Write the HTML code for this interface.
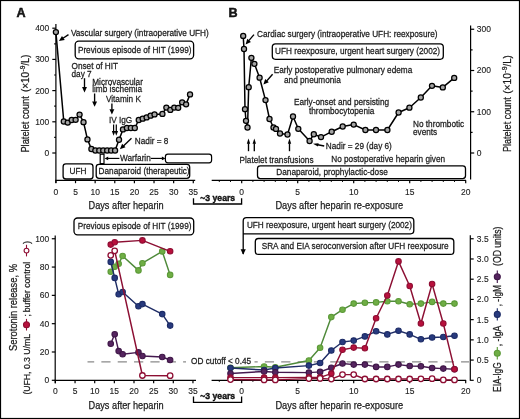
<!DOCTYPE html>
<html><head><meta charset="utf-8"><style>
html,body{margin:0;padding:0;background:#fff;}
body{width:520px;height:419px;overflow:hidden;}
svg{display:block;font-family:"Liberation Sans",sans-serif;will-change:transform;}
text{fill:#1a1a1a;stroke:#1a1a1a;stroke-width:0.25px;}
text.tk{stroke-width:0.12px;fill:#222;stroke:#222;}
</style></head><body>
<svg width="520" height="419" viewBox="0 0 520 419">
<rect x="0" y="0" width="520" height="419" fill="#fff"/>
<text transform="translate(16.6,16.8) scale(1,1)" font-size="12.6" text-anchor="start" font-weight="bold" fill="#000" style="stroke:#000;stroke-width:0.45px">A</text>
<line x1="55.9" y1="24" x2="55.9" y2="183" stroke="#000" stroke-width="1.2" />
<line x1="52.3" y1="153.0" x2="55.9" y2="153.0" stroke="#000" stroke-width="1.2" />
<text transform="translate(49.3,155.9) scale(0.91,1)" font-size="9.35" text-anchor="end" font-weight="normal" class="tk">0</text>
<line x1="54.2" y1="137.4" x2="55.9" y2="137.4" stroke="#000" stroke-width="1.2" />
<line x1="52.3" y1="121.8" x2="55.9" y2="121.8" stroke="#000" stroke-width="1.2" />
<text transform="translate(49.3,124.7) scale(0.91,1)" font-size="9.35" text-anchor="end" font-weight="normal" class="tk">100</text>
<line x1="54.2" y1="106.2" x2="55.9" y2="106.2" stroke="#000" stroke-width="1.2" />
<line x1="52.3" y1="90.6" x2="55.9" y2="90.6" stroke="#000" stroke-width="1.2" />
<text transform="translate(49.3,93.5) scale(0.91,1)" font-size="9.35" text-anchor="end" font-weight="normal" class="tk">200</text>
<line x1="54.2" y1="75.0" x2="55.9" y2="75.0" stroke="#000" stroke-width="1.2" />
<line x1="52.3" y1="59.400000000000006" x2="55.9" y2="59.400000000000006" stroke="#000" stroke-width="1.2" />
<text transform="translate(49.3,62.300000000000004) scale(0.91,1)" font-size="9.35" text-anchor="end" font-weight="normal" class="tk">300</text>
<line x1="54.2" y1="43.8" x2="55.9" y2="43.8" stroke="#000" stroke-width="1.2" />
<line x1="52.3" y1="28.200000000000003" x2="55.9" y2="28.200000000000003" stroke="#000" stroke-width="1.2" />
<text transform="translate(49.3,31.1) scale(0.91,1)" font-size="9.35" text-anchor="end" font-weight="normal" class="tk">400</text>
<line x1="55.3" y1="180.4" x2="195.2" y2="180.4" stroke="#000" stroke-width="1.2" />
<line x1="55.9" y1="180.4" x2="55.9" y2="183.2" stroke="#000" stroke-width="1.2" />
<text transform="translate(55.9,194.5) scale(0.91,1)" font-size="9.35" text-anchor="middle" font-weight="normal" class="tk">0</text>
<line x1="75.525" y1="180.4" x2="75.525" y2="183.2" stroke="#000" stroke-width="1.2" />
<text transform="translate(75.525,194.5) scale(0.91,1)" font-size="9.35" text-anchor="middle" font-weight="normal" class="tk">5</text>
<line x1="95.15" y1="180.4" x2="95.15" y2="183.2" stroke="#000" stroke-width="1.2" />
<text transform="translate(95.15,194.5) scale(0.91,1)" font-size="9.35" text-anchor="middle" font-weight="normal" class="tk">10</text>
<line x1="114.775" y1="180.4" x2="114.775" y2="183.2" stroke="#000" stroke-width="1.2" />
<text transform="translate(114.775,194.5) scale(0.91,1)" font-size="9.35" text-anchor="middle" font-weight="normal" class="tk">15</text>
<line x1="134.4" y1="180.4" x2="134.4" y2="183.2" stroke="#000" stroke-width="1.2" />
<text transform="translate(134.4,194.5) scale(0.91,1)" font-size="9.35" text-anchor="middle" font-weight="normal" class="tk">20</text>
<line x1="154.025" y1="180.4" x2="154.025" y2="183.2" stroke="#000" stroke-width="1.2" />
<text transform="translate(154.025,194.5) scale(0.91,1)" font-size="9.35" text-anchor="middle" font-weight="normal" class="tk">25</text>
<line x1="173.65" y1="180.4" x2="173.65" y2="183.2" stroke="#000" stroke-width="1.2" />
<text transform="translate(173.65,194.5) scale(0.91,1)" font-size="9.35" text-anchor="middle" font-weight="normal" class="tk">30</text>
<line x1="193.275" y1="180.4" x2="193.275" y2="183.2" stroke="#000" stroke-width="1.2" />
<text transform="translate(193.275,194.5) scale(0.91,1)" font-size="9.35" text-anchor="middle" font-weight="normal" class="tk">35</text>
<g transform="translate(28.7,152.6) rotate(-90)">
<text x="0" y="0" font-size="11.4" textLength="56.4" lengthAdjust="spacingAndGlyphs">Platelet count</text>
<text x="60.5" y="0" font-size="10.0" textLength="20.195999999999998" lengthAdjust="spacingAndGlyphs">(×10</text>
<text x="81.07000000000001" y="-3.8" font-size="7.0" textLength="5.983999999999995" lengthAdjust="spacingAndGlyphs">-9</text>
<text x="87.054" y="0" font-size="10.0" textLength="10.846000000000004" lengthAdjust="spacingAndGlyphs">/L)</text>
</g>
<text x="88.5" y="208.9" font-size="11.2" textLength="75.2" lengthAdjust="spacingAndGlyphs" text-anchor="start" font-weight="normal" >Days after heparin</text>
<rect x="63.1" y="163.9" width="29.9" height="15.099999999999994" rx="2.8" ry="2.8" fill="#fff" stroke="#000" stroke-width="1.3"/>
<text transform="translate(78.0,174.2) scale(0.881,1)" font-size="9.35" text-anchor="middle" font-weight="normal" >UFH</text>
<rect x="96.2" y="164.4" width="93.49999999999999" height="13.900000000000006" rx="2.8" ry="2.8" fill="#fff" stroke="#000" stroke-width="1.3"/>
<text transform="translate(98.6,174.1) scale(0.881,1)" font-size="9.35" text-anchor="start" font-weight="normal" >Danaparoid (therapeutic)</text>
<rect x="100.2" y="154.2" width="3.8" height="9.4" fill="#fff" stroke="#000" stroke-width="1.2"/>
<rect x="165.4" y="154.2" width="46.19999999999999" height="8.600000000000023" rx="2.5" ry="2.5" fill="#fff" stroke="#000" stroke-width="1.2"/>
<line x1="119.4" y1="158.4" x2="107.70" y2="158.40" stroke="#000" stroke-width="1.15"/>
<path d="M104.60,158.40 L108.20,156.50 L108.20,160.30 Z" fill="#000"/>
<line x1="150.8" y1="158.4" x2="162.40" y2="158.40" stroke="#000" stroke-width="1.15"/>
<path d="M165.50,158.40 L161.90,160.30 L161.90,156.50 Z" fill="#000"/>
<text transform="translate(120.0,161.3) scale(0.881,1)" font-size="9.35" text-anchor="start" font-weight="normal" >Warfarin</text>
<rect x="75.2" y="41.2" width="118.39999999999999" height="17.599999999999994" rx="3.5" ry="3.5" fill="#fff" stroke="#000" stroke-width="1.3"/>
<text transform="translate(77.9,52.5) scale(0.881,1)" font-size="9.35" text-anchor="start" font-weight="normal" >Previous episode of HIT (1999)</text>
<text transform="translate(70.9,35.7) scale(0.881,1)" font-size="9.35" text-anchor="start" font-weight="normal" >Vascular surgery (intraoperative UFH)</text>
<line x1="68.5" y1="34.6" x2="62.98" y2="38.28" stroke="#000" stroke-width="1.35"/>
<path d="M58.90,41.00 L62.03,35.97 L64.75,40.04 Z" fill="#000"/>
<text transform="translate(71.5,68.8) scale(0.881,1)" font-size="9.35" text-anchor="start" font-weight="normal" >Onset of HIT</text>
<text transform="translate(71.5,76.7) scale(0.881,1)" font-size="9.35" text-anchor="start" font-weight="normal" >day 7</text>
<line x1="84.5" y1="78.2" x2="84.50" y2="87.50" stroke="#000" stroke-width="1.35"/>
<path d="M84.50,92.40 L82.05,87.00 L86.95,87.00 Z" fill="#000"/>
<text transform="translate(92.2,84.6) scale(0.881,1)" font-size="9.35" text-anchor="start" font-weight="normal" >Microvascular</text>
<text transform="translate(92.2,92.3) scale(0.881,1)" font-size="9.35" text-anchor="start" font-weight="normal" >limb ischemia</text>
<line x1="94.6" y1="93.5" x2="94.60" y2="101.90" stroke="#000" stroke-width="1.35"/>
<path d="M94.60,106.80 L92.15,101.40 L97.05,101.40 Z" fill="#000"/>
<text transform="translate(105.9,102.1) scale(0.881,1)" font-size="9.35" text-anchor="start" font-weight="normal" >Vitamin K</text>
<line x1="111.9" y1="103.4" x2="111.90" y2="109.70" stroke="#000" stroke-width="1.35"/>
<path d="M111.90,114.60 L109.45,109.20 L114.35,109.20 Z" fill="#000"/>
<text transform="translate(108.9,122.6) scale(0.881,1)" font-size="9.35" text-anchor="start" font-weight="normal" >IV IgG</text>
<line x1="113.6" y1="124.4" x2="113.60" y2="131.50" stroke="#000" stroke-width="1.2"/>
<path d="M113.60,135.80 L111.85,131.00 L115.35,131.00 Z" fill="#000"/>
<line x1="116.3" y1="124.4" x2="116.30" y2="131.50" stroke="#000" stroke-width="1.2"/>
<path d="M116.30,135.80 L114.55,131.00 L118.05,131.00 Z" fill="#000"/>
<text transform="translate(134.8,143.7) scale(0.881,1)" font-size="9.35" text-anchor="start" font-weight="normal" >Nadir = 8</text>
<line x1="131.5" y1="138.2" x2="123.44" y2="145.91" stroke="#000" stroke-width="1.35"/>
<path d="M119.90,149.30 L122.11,143.80 L125.50,147.34 Z" fill="#000"/>
<path d="M55.90,32.10 L63.79,121.50 L67.73,122.60 L71.68,120.00 L75.62,119.80 L79.57,114.60 L83.52,122.20 L87.46,139.40 L91.41,149.00 L95.35,150.50 L99.29,150.50 L103.24,150.50 L107.19,150.50 L111.13,150.50 L115.07,150.50 L119.02,139.70 L122.97,129.40 L126.91,128.00 L130.85,128.00 L134.80,128.00 L138.75,120.00 L142.69,118.70 L146.63,117.40 L150.58,115.70 L154.53,114.40 L162.41,113.90 L166.36,107.60 L170.31,109.90 L174.25,107.60 L178.19,107.80 L182.14,102.30 L186.09,104.30 L190.03,94.40" fill="none" stroke="#000" stroke-width="1.5" stroke-linejoin="round"/>
<circle cx="55.90" cy="32.10" r="2.55" fill="#a4a4a4" stroke="#000" stroke-width="1.25"/>
<circle cx="63.79" cy="121.50" r="2.55" fill="#a4a4a4" stroke="#000" stroke-width="1.25"/>
<circle cx="67.73" cy="122.60" r="2.55" fill="#a4a4a4" stroke="#000" stroke-width="1.25"/>
<circle cx="71.68" cy="120.00" r="2.55" fill="#a4a4a4" stroke="#000" stroke-width="1.25"/>
<circle cx="75.62" cy="119.80" r="2.55" fill="#a4a4a4" stroke="#000" stroke-width="1.25"/>
<circle cx="79.57" cy="114.60" r="2.55" fill="#a4a4a4" stroke="#000" stroke-width="1.25"/>
<circle cx="83.52" cy="122.20" r="2.55" fill="#a4a4a4" stroke="#000" stroke-width="1.25"/>
<circle cx="87.46" cy="139.40" r="2.55" fill="#a4a4a4" stroke="#000" stroke-width="1.25"/>
<circle cx="91.41" cy="149.00" r="2.55" fill="#a4a4a4" stroke="#000" stroke-width="1.25"/>
<circle cx="95.35" cy="150.50" r="2.55" fill="#a4a4a4" stroke="#000" stroke-width="1.25"/>
<circle cx="99.29" cy="150.50" r="2.55" fill="#a4a4a4" stroke="#000" stroke-width="1.25"/>
<circle cx="103.24" cy="150.50" r="2.55" fill="#a4a4a4" stroke="#000" stroke-width="1.25"/>
<circle cx="107.19" cy="150.50" r="2.55" fill="#a4a4a4" stroke="#000" stroke-width="1.25"/>
<circle cx="111.13" cy="150.50" r="2.55" fill="#a4a4a4" stroke="#000" stroke-width="1.25"/>
<circle cx="115.07" cy="150.50" r="2.55" fill="#a4a4a4" stroke="#000" stroke-width="1.25"/>
<circle cx="119.02" cy="139.70" r="2.55" fill="#a4a4a4" stroke="#000" stroke-width="1.25"/>
<circle cx="122.97" cy="129.40" r="2.55" fill="#a4a4a4" stroke="#000" stroke-width="1.25"/>
<circle cx="126.91" cy="128.00" r="2.55" fill="#a4a4a4" stroke="#000" stroke-width="1.25"/>
<circle cx="130.85" cy="128.00" r="2.55" fill="#a4a4a4" stroke="#000" stroke-width="1.25"/>
<circle cx="134.80" cy="128.00" r="2.55" fill="#a4a4a4" stroke="#000" stroke-width="1.25"/>
<circle cx="138.75" cy="120.00" r="2.55" fill="#a4a4a4" stroke="#000" stroke-width="1.25"/>
<circle cx="142.69" cy="118.70" r="2.55" fill="#a4a4a4" stroke="#000" stroke-width="1.25"/>
<circle cx="146.63" cy="117.40" r="2.55" fill="#a4a4a4" stroke="#000" stroke-width="1.25"/>
<circle cx="150.58" cy="115.70" r="2.55" fill="#a4a4a4" stroke="#000" stroke-width="1.25"/>
<circle cx="154.53" cy="114.40" r="2.55" fill="#a4a4a4" stroke="#000" stroke-width="1.25"/>
<circle cx="162.41" cy="113.90" r="2.55" fill="#a4a4a4" stroke="#000" stroke-width="1.25"/>
<circle cx="166.36" cy="107.60" r="2.55" fill="#a4a4a4" stroke="#000" stroke-width="1.25"/>
<circle cx="170.31" cy="109.90" r="2.55" fill="#a4a4a4" stroke="#000" stroke-width="1.25"/>
<circle cx="174.25" cy="107.60" r="2.55" fill="#a4a4a4" stroke="#000" stroke-width="1.25"/>
<circle cx="178.19" cy="107.80" r="2.55" fill="#a4a4a4" stroke="#000" stroke-width="1.25"/>
<circle cx="182.14" cy="102.30" r="2.55" fill="#a4a4a4" stroke="#000" stroke-width="1.25"/>
<circle cx="186.09" cy="104.30" r="2.55" fill="#a4a4a4" stroke="#000" stroke-width="1.25"/>
<circle cx="190.03" cy="94.40" r="2.55" fill="#a4a4a4" stroke="#000" stroke-width="1.25"/>
<text transform="translate(228.6,16.8) scale(1,1)" font-size="12.6" text-anchor="start" font-weight="bold" fill="#000" style="stroke:#000;stroke-width:0.45px">B</text>
<line x1="470.6" y1="25.4" x2="470.6" y2="179.6" stroke="#000" stroke-width="1.2" />
<line x1="470.6" y1="153.0" x2="474.2" y2="153.0" stroke="#000" stroke-width="1.2" />
<text transform="translate(476.7,155.9) scale(0.91,1)" font-size="9.35" text-anchor="start" font-weight="normal" class="tk">0</text>
<line x1="470.6" y1="132.375" x2="472.6" y2="132.375" stroke="#000" stroke-width="1.2" />
<line x1="470.6" y1="111.75" x2="474.2" y2="111.75" stroke="#000" stroke-width="1.2" />
<text transform="translate(476.7,114.65) scale(0.91,1)" font-size="9.35" text-anchor="start" font-weight="normal" class="tk">100</text>
<line x1="470.6" y1="91.125" x2="472.6" y2="91.125" stroke="#000" stroke-width="1.2" />
<line x1="470.6" y1="70.5" x2="474.2" y2="70.5" stroke="#000" stroke-width="1.2" />
<text transform="translate(476.7,73.4) scale(0.91,1)" font-size="9.35" text-anchor="start" font-weight="normal" class="tk">200</text>
<line x1="470.6" y1="49.875" x2="472.6" y2="49.875" stroke="#000" stroke-width="1.2" />
<line x1="470.6" y1="29.25" x2="474.2" y2="29.25" stroke="#000" stroke-width="1.2" />
<text transform="translate(476.7,32.15) scale(0.91,1)" font-size="9.35" text-anchor="start" font-weight="normal" class="tk">300</text>
<g transform="translate(510.5,152.1) rotate(-90)">
<text x="0" y="0" font-size="11.4" textLength="55.0" lengthAdjust="spacingAndGlyphs">Platelet count</text>
<text x="58.3" y="0" font-size="10.0" textLength="20.790000000000006" lengthAdjust="spacingAndGlyphs">(×10</text>
<text x="79.475" y="-3.8" font-size="7.0" textLength="6.159999999999997" lengthAdjust="spacingAndGlyphs">-9</text>
<text x="85.63499999999999" y="0" font-size="10.0" textLength="11.165000000000006" lengthAdjust="spacingAndGlyphs">/L)</text>
</g>
<line x1="211.7" y1="180.4" x2="466.1" y2="180.4" stroke="#000" stroke-width="1.2" />
<line x1="219.29999999999998" y1="180.4" x2="219.29999999999998" y2="182.0" stroke="#000" stroke-width="0.9" />
<line x1="230.5" y1="180.4" x2="230.5" y2="182.0" stroke="#000" stroke-width="0.9" />
<line x1="241.7" y1="180.4" x2="241.7" y2="183.2" stroke="#000" stroke-width="1.2" />
<text transform="translate(241.7,194.5) scale(0.91,1)" font-size="9.35" text-anchor="middle" font-weight="normal" class="tk">0</text>
<line x1="252.89999999999998" y1="180.4" x2="252.89999999999998" y2="182.0" stroke="#000" stroke-width="0.9" />
<line x1="264.09999999999997" y1="180.4" x2="264.09999999999997" y2="182.0" stroke="#000" stroke-width="0.9" />
<line x1="275.29999999999995" y1="180.4" x2="275.29999999999995" y2="182.0" stroke="#000" stroke-width="0.9" />
<line x1="286.5" y1="180.4" x2="286.5" y2="182.0" stroke="#000" stroke-width="0.9" />
<line x1="297.7" y1="180.4" x2="297.7" y2="183.2" stroke="#000" stroke-width="1.2" />
<text transform="translate(297.7,194.5) scale(0.91,1)" font-size="9.35" text-anchor="middle" font-weight="normal" class="tk">5</text>
<line x1="308.9" y1="180.4" x2="308.9" y2="182.0" stroke="#000" stroke-width="0.9" />
<line x1="320.09999999999997" y1="180.4" x2="320.09999999999997" y2="182.0" stroke="#000" stroke-width="0.9" />
<line x1="331.29999999999995" y1="180.4" x2="331.29999999999995" y2="182.0" stroke="#000" stroke-width="0.9" />
<line x1="342.5" y1="180.4" x2="342.5" y2="182.0" stroke="#000" stroke-width="0.9" />
<line x1="353.7" y1="180.4" x2="353.7" y2="183.2" stroke="#000" stroke-width="1.2" />
<text transform="translate(353.7,194.5) scale(0.91,1)" font-size="9.35" text-anchor="middle" font-weight="normal" class="tk">10</text>
<line x1="364.9" y1="180.4" x2="364.9" y2="182.0" stroke="#000" stroke-width="0.9" />
<line x1="376.09999999999997" y1="180.4" x2="376.09999999999997" y2="182.0" stroke="#000" stroke-width="0.9" />
<line x1="387.29999999999995" y1="180.4" x2="387.29999999999995" y2="182.0" stroke="#000" stroke-width="0.9" />
<line x1="398.5" y1="180.4" x2="398.5" y2="182.0" stroke="#000" stroke-width="0.9" />
<line x1="409.7" y1="180.4" x2="409.7" y2="183.2" stroke="#000" stroke-width="1.2" />
<text transform="translate(409.7,194.5) scale(0.91,1)" font-size="9.35" text-anchor="middle" font-weight="normal" class="tk">15</text>
<line x1="420.9" y1="180.4" x2="420.9" y2="182.0" stroke="#000" stroke-width="0.9" />
<line x1="432.09999999999997" y1="180.4" x2="432.09999999999997" y2="182.0" stroke="#000" stroke-width="0.9" />
<line x1="443.29999999999995" y1="180.4" x2="443.29999999999995" y2="182.0" stroke="#000" stroke-width="0.9" />
<line x1="454.5" y1="180.4" x2="454.5" y2="182.0" stroke="#000" stroke-width="0.9" />
<line x1="465.7" y1="180.4" x2="465.7" y2="183.2" stroke="#000" stroke-width="1.2" />
<text transform="translate(465.7,194.5) scale(0.91,1)" font-size="9.35" text-anchor="middle" font-weight="normal" class="tk">20</text>
<text x="275.4" y="208.9" font-size="11.2" textLength="127.8" lengthAdjust="spacingAndGlyphs" text-anchor="start" font-weight="normal" >Days after heparin re-exposure</text>
<rect x="257.5" y="165.8" width="208.0" height="12.799999999999983" rx="2.8" ry="2.8" fill="#fff" stroke="#000" stroke-width="1.3"/>
<text transform="translate(276.3,174.6) scale(0.881,1)" font-size="9.35" text-anchor="start" font-weight="normal" >Danaparoid, prophylactic-dose</text>
<text transform="translate(331.2,161.9) scale(0.881,1)" font-size="9.35" text-anchor="start" font-weight="normal" >No postoperative heparin given</text>
<text transform="translate(239.5,162.5) scale(0.881,1)" font-size="9.35" text-anchor="start" font-weight="normal" >Platelet transfusions</text>
<line x1="248.5" y1="151.2" x2="248.50" y2="143.30" stroke="#000" stroke-width="1.35"/>
<path d="M248.50,138.40 L250.20,143.80 L246.80,143.80 Z" fill="#000"/>
<line x1="254.3" y1="151.2" x2="254.30" y2="143.30" stroke="#000" stroke-width="1.35"/>
<path d="M254.30,138.40 L256.00,143.80 L252.60,143.80 Z" fill="#000"/>
<line x1="289.5" y1="151.2" x2="289.50" y2="143.30" stroke="#000" stroke-width="1.35"/>
<path d="M289.50,138.40 L291.20,143.80 L287.80,143.80 Z" fill="#000"/>
<rect x="272.3" y="43.8" width="171.0" height="15.5" rx="3.2" ry="3.2" fill="#fff" stroke="#000" stroke-width="1.3"/>
<text transform="translate(275.0,54.1) scale(0.881,1)" font-size="9.35" text-anchor="start" font-weight="normal" >UFH reexposure, urgent heart surgery (2002)</text>
<text transform="translate(257.0,37.4) scale(0.881,1)" font-size="9.35" text-anchor="start" font-weight="normal" >Cardiac surgery (intraoperative UFH: reexposure)</text>
<line x1="254.0" y1="34.6" x2="248.79" y2="40.68" stroke="#000" stroke-width="1.35"/>
<path d="M245.60,44.40 L247.25,38.71 L250.97,41.89 Z" fill="#000"/>
<text transform="translate(273.7,73.4) scale(0.881,1)" font-size="9.35" text-anchor="start" font-weight="normal" >Early postoperative pulmonary edema</text>
<text transform="translate(284.0,83.4) scale(0.881,1)" font-size="9.35" text-anchor="start" font-weight="normal" >and pneumonia</text>
<line x1="272.6" y1="74.3" x2="266.66" y2="80.95" stroke="#000" stroke-width="1.35"/>
<path d="M263.40,84.60 L265.17,78.94 L268.82,82.20 Z" fill="#000"/>
<text transform="translate(294.0,105.4) scale(0.881,1)" font-size="9.35" text-anchor="start" font-weight="normal" >Early-onset and persisting</text>
<text transform="translate(309.0,113.5) scale(0.881,1)" font-size="9.35" text-anchor="start" font-weight="normal" >thrombocytopenia</text>
<text transform="translate(413.0,126.5) scale(0.881,1)" font-size="9.35" text-anchor="start" font-weight="normal" >No thrombotic</text>
<text transform="translate(413.0,135.4) scale(0.881,1)" font-size="9.35" text-anchor="start" font-weight="normal" >events</text>
<text transform="translate(325.8,149.4) scale(0.881,1)" font-size="9.35" text-anchor="start" font-weight="normal" >Nadir = 29 (day 6)</text>
<line x1="324.2" y1="146.0" x2="317.81" y2="144.74" stroke="#000" stroke-width="1.35"/>
<path d="M313.00,143.80 L318.63,143.17 L317.97,146.51 Z" fill="#000"/>
<path d="M243.20,35.90 L244.00,49.00 L245.00,109.20 L246.00,120.80 L247.50,127.50 L248.70,87.20 L251.40,57.80 L254.40,63.80 L259.60,77.70 L265.50,100.10 L269.50,119.00 L273.50,127.50 L276.00,128.90 L280.00,133.50 L287.50,134.50 L293.00,116.50 L298.30,128.80 L309.60,141.00 L313.80,134.20 L321.00,137.10 L331.70,131.70 L342.70,126.50 L353.70,124.60 L365.40,130.00 L376.00,130.00 L387.40,130.00 L398.60,112.50 L409.40,107.70 L420.80,97.50 L432.00,85.80 L442.80,87.40 L454.20,77.90" fill="none" stroke="#000" stroke-width="1.5" stroke-linejoin="round"/>
<circle cx="243.20" cy="35.90" r="2.55" fill="#a4a4a4" stroke="#000" stroke-width="1.25"/>
<circle cx="244.00" cy="49.00" r="2.55" fill="#a4a4a4" stroke="#000" stroke-width="1.25"/>
<circle cx="245.00" cy="109.20" r="2.55" fill="#a4a4a4" stroke="#000" stroke-width="1.25"/>
<circle cx="246.00" cy="120.80" r="2.55" fill="#a4a4a4" stroke="#000" stroke-width="1.25"/>
<circle cx="247.50" cy="127.50" r="2.55" fill="#a4a4a4" stroke="#000" stroke-width="1.25"/>
<circle cx="248.70" cy="87.20" r="2.55" fill="#a4a4a4" stroke="#000" stroke-width="1.25"/>
<circle cx="251.40" cy="57.80" r="2.55" fill="#a4a4a4" stroke="#000" stroke-width="1.25"/>
<circle cx="254.40" cy="63.80" r="2.55" fill="#a4a4a4" stroke="#000" stroke-width="1.25"/>
<circle cx="259.60" cy="77.70" r="2.55" fill="#a4a4a4" stroke="#000" stroke-width="1.25"/>
<circle cx="265.50" cy="100.10" r="2.55" fill="#a4a4a4" stroke="#000" stroke-width="1.25"/>
<circle cx="269.50" cy="119.00" r="2.55" fill="#a4a4a4" stroke="#000" stroke-width="1.25"/>
<circle cx="273.50" cy="127.50" r="2.55" fill="#a4a4a4" stroke="#000" stroke-width="1.25"/>
<circle cx="276.00" cy="128.90" r="2.55" fill="#a4a4a4" stroke="#000" stroke-width="1.25"/>
<circle cx="280.00" cy="133.50" r="2.55" fill="#a4a4a4" stroke="#000" stroke-width="1.25"/>
<circle cx="287.50" cy="134.50" r="2.55" fill="#a4a4a4" stroke="#000" stroke-width="1.25"/>
<circle cx="293.00" cy="116.50" r="2.55" fill="#a4a4a4" stroke="#000" stroke-width="1.25"/>
<circle cx="298.30" cy="128.80" r="2.55" fill="#a4a4a4" stroke="#000" stroke-width="1.25"/>
<circle cx="309.60" cy="141.00" r="2.55" fill="#a4a4a4" stroke="#000" stroke-width="1.25"/>
<circle cx="313.80" cy="134.20" r="2.55" fill="#a4a4a4" stroke="#000" stroke-width="1.25"/>
<circle cx="321.00" cy="137.10" r="2.55" fill="#a4a4a4" stroke="#000" stroke-width="1.25"/>
<circle cx="331.70" cy="131.70" r="2.55" fill="#a4a4a4" stroke="#000" stroke-width="1.25"/>
<circle cx="342.70" cy="126.50" r="2.55" fill="#a4a4a4" stroke="#000" stroke-width="1.25"/>
<circle cx="353.70" cy="124.60" r="2.55" fill="#a4a4a4" stroke="#000" stroke-width="1.25"/>
<circle cx="365.40" cy="130.00" r="2.55" fill="#a4a4a4" stroke="#000" stroke-width="1.25"/>
<circle cx="376.00" cy="130.00" r="2.55" fill="#a4a4a4" stroke="#000" stroke-width="1.25"/>
<circle cx="387.40" cy="130.00" r="2.55" fill="#a4a4a4" stroke="#000" stroke-width="1.25"/>
<circle cx="398.60" cy="112.50" r="2.55" fill="#a4a4a4" stroke="#000" stroke-width="1.25"/>
<circle cx="409.40" cy="107.70" r="2.55" fill="#a4a4a4" stroke="#000" stroke-width="1.25"/>
<circle cx="420.80" cy="97.50" r="2.55" fill="#a4a4a4" stroke="#000" stroke-width="1.25"/>
<circle cx="432.00" cy="85.80" r="2.55" fill="#a4a4a4" stroke="#000" stroke-width="1.25"/>
<circle cx="442.80" cy="87.40" r="2.55" fill="#a4a4a4" stroke="#000" stroke-width="1.25"/>
<circle cx="454.20" cy="77.90" r="2.55" fill="#a4a4a4" stroke="#000" stroke-width="1.25"/>
<path d="M193.5,198.2 L193.5,204.0 L241.6,204.0 L241.6,198.2" fill="none" stroke="#000" stroke-width="1.3"/>
<text transform="translate(217.7,200.5) scale(0.9,1)" font-size="9.6" text-anchor="middle" font-weight="bold" fill="#000" style="stroke:#000;stroke-width:0.4px">~3 years</text>
<path d="M193.5,396.5 L193.5,402.3 L241.6,402.3 L241.6,396.5" fill="none" stroke="#000" stroke-width="1.3"/>
<text transform="translate(217.7,398.8) scale(0.9,1)" font-size="9.6" text-anchor="middle" font-weight="bold" fill="#000" style="stroke:#000;stroke-width:0.4px">~3 years</text>
<line x1="55.2" y1="235.6" x2="55.2" y2="383.2" stroke="#000" stroke-width="1.2" />
<line x1="51.8" y1="380.3" x2="55.2" y2="380.3" stroke="#000" stroke-width="1.2" />
<text transform="translate(49.3,383.2) scale(0.91,1)" font-size="9.35" text-anchor="end" font-weight="normal" class="tk">0</text>
<line x1="51.8" y1="351.99" x2="55.2" y2="351.99" stroke="#000" stroke-width="1.2" />
<text transform="translate(49.3,354.89) scale(0.91,1)" font-size="9.35" text-anchor="end" font-weight="normal" class="tk">20</text>
<line x1="51.8" y1="323.68" x2="55.2" y2="323.68" stroke="#000" stroke-width="1.2" />
<text transform="translate(49.3,326.58) scale(0.91,1)" font-size="9.35" text-anchor="end" font-weight="normal" class="tk">40</text>
<line x1="51.8" y1="295.37" x2="55.2" y2="295.37" stroke="#000" stroke-width="1.2" />
<text transform="translate(49.3,298.27) scale(0.91,1)" font-size="9.35" text-anchor="end" font-weight="normal" class="tk">60</text>
<line x1="51.8" y1="267.06" x2="55.2" y2="267.06" stroke="#000" stroke-width="1.2" />
<text transform="translate(49.3,269.96) scale(0.91,1)" font-size="9.35" text-anchor="end" font-weight="normal" class="tk">80</text>
<line x1="51.8" y1="238.75" x2="55.2" y2="238.75" stroke="#000" stroke-width="1.2" />
<text transform="translate(49.3,241.65) scale(0.91,1)" font-size="9.35" text-anchor="end" font-weight="normal" class="tk">100</text>
<line x1="54.6" y1="380.3" x2="196.0" y2="380.3" stroke="#000" stroke-width="1.2" />
<line x1="55.4" y1="380.3" x2="55.4" y2="383.3" stroke="#000" stroke-width="1.2" />
<text transform="translate(55.4,394.3) scale(0.91,1)" font-size="9.35" text-anchor="middle" font-weight="normal" class="tk">0</text>
<line x1="75.05" y1="380.3" x2="75.05" y2="383.3" stroke="#000" stroke-width="1.2" />
<text transform="translate(75.05,394.3) scale(0.91,1)" font-size="9.35" text-anchor="middle" font-weight="normal" class="tk">5</text>
<line x1="94.7" y1="380.3" x2="94.7" y2="383.3" stroke="#000" stroke-width="1.2" />
<text transform="translate(94.7,394.3) scale(0.91,1)" font-size="9.35" text-anchor="middle" font-weight="normal" class="tk">10</text>
<line x1="114.35" y1="380.3" x2="114.35" y2="383.3" stroke="#000" stroke-width="1.2" />
<text transform="translate(114.35,394.3) scale(0.91,1)" font-size="9.35" text-anchor="middle" font-weight="normal" class="tk">15</text>
<line x1="134.0" y1="380.3" x2="134.0" y2="383.3" stroke="#000" stroke-width="1.2" />
<text transform="translate(134.0,394.3) scale(0.91,1)" font-size="9.35" text-anchor="middle" font-weight="normal" class="tk">20</text>
<line x1="153.65" y1="380.3" x2="153.65" y2="383.3" stroke="#000" stroke-width="1.2" />
<text transform="translate(153.65,394.3) scale(0.91,1)" font-size="9.35" text-anchor="middle" font-weight="normal" class="tk">25</text>
<line x1="173.3" y1="380.3" x2="173.3" y2="383.3" stroke="#000" stroke-width="1.2" />
<text transform="translate(173.3,394.3) scale(0.91,1)" font-size="9.35" text-anchor="middle" font-weight="normal" class="tk">30</text>
<line x1="192.95000000000002" y1="380.3" x2="192.95000000000002" y2="383.3" stroke="#000" stroke-width="1.2" />
<text transform="translate(192.95000000000002,394.3) scale(0.91,1)" font-size="9.35" text-anchor="middle" font-weight="normal" class="tk">35</text>
<text x="88.5" y="408.7" font-size="11.2" textLength="75.2" lengthAdjust="spacingAndGlyphs" text-anchor="start" font-weight="normal" >Days after heparin</text>
<rect x="74.0" y="218.0" width="119.69999999999999" height="16.80000000000001" rx="3.5" ry="3.5" fill="#fff" stroke="#000" stroke-width="1.3"/>
<text transform="translate(77.8,229.0) scale(0.881,1)" font-size="9.35" text-anchor="start" font-weight="normal" >Previous episode of HIT (1999)</text>
<g transform="translate(16.6,351.0) rotate(-90)">
<text x="0" y="0" font-size="11.3" textLength="87.0" lengthAdjust="spacingAndGlyphs">Serotonin release, %</text>
</g>
<g transform="translate(30.1,394.6) rotate(-90)">
<text x="0" y="0" font-size="9.9" textLength="60.6" lengthAdjust="spacingAndGlyphs">(UFH, 0.3 U/mL</text>
<line x1="64.10000000000001" y1="-3.6" x2="75.7" y2="-3.6" stroke="#8e0d33" stroke-width="1.1"/>
<circle cx="69.9" cy="-3.6" r="3.0" fill="#b8103c" stroke="#8e0d33" stroke-width="1.1"/>
<text x="78.2" y="0" font-size="9.9" textLength="2.3999999999999915" lengthAdjust="spacingAndGlyphs">;</text>
<text x="82.4" y="0" font-size="9.9" textLength="50.400000000000006" lengthAdjust="spacingAndGlyphs">buffer control</text>
<line x1="138.2" y1="-3.6" x2="149.8" y2="-3.6" stroke="#8e0d33" stroke-width="1.1"/>
<circle cx="144.0" cy="-3.6" r="2.4" fill="#fff" stroke="#8e0d33" stroke-width="1.1"/>
<text x="150.6" y="0" font-size="9.9" textLength="3.0" lengthAdjust="spacingAndGlyphs">)</text>
</g>
<line x1="87.5" y1="361.8" x2="469" y2="361.8" stroke="#8a8a8a" stroke-width="1.3" stroke-dasharray="9.2 7.15" stroke-dashoffset="2.5"/>
<rect x="186" y="356" width="68.5" height="10" fill="#fff"/>
<text transform="translate(191.1,364.2) scale(0.881,1)" font-size="9.35" text-anchor="start" font-weight="normal" >OD cutoff &lt; 0.45</text>
<path d="M110.74,271.80 L114.70,266.70 L118.66,263.80 L122.62,256.00 L138.46,270.40 L142.42,263.20 L162.22,251.40 L170.14,274.90" fill="none" stroke="#4f8a3a" stroke-width="1.45" stroke-linejoin="round"/>
<circle cx="110.74" cy="271.80" r="2.75" fill="#6fae45" stroke="#5c9a38" stroke-width="1.1"/>
<circle cx="114.70" cy="266.70" r="2.75" fill="#6fae45" stroke="#5c9a38" stroke-width="1.1"/>
<circle cx="118.66" cy="263.80" r="2.75" fill="#6fae45" stroke="#5c9a38" stroke-width="1.1"/>
<circle cx="122.62" cy="256.00" r="2.75" fill="#6fae45" stroke="#5c9a38" stroke-width="1.1"/>
<circle cx="138.46" cy="270.40" r="2.75" fill="#6fae45" stroke="#5c9a38" stroke-width="1.1"/>
<circle cx="142.42" cy="263.20" r="2.75" fill="#6fae45" stroke="#5c9a38" stroke-width="1.1"/>
<circle cx="162.22" cy="251.40" r="2.75" fill="#6fae45" stroke="#5c9a38" stroke-width="1.1"/>
<circle cx="170.14" cy="274.90" r="2.75" fill="#6fae45" stroke="#5c9a38" stroke-width="1.1"/>
<path d="M110.74,261.90 L114.70,277.90 L118.66,294.20 L122.62,292.00 L138.46,306.20 L142.42,304.10 L162.22,314.10 L170.14,325.60" fill="none" stroke="#1f2d66" stroke-width="1.45" stroke-linejoin="round"/>
<circle cx="110.74" cy="261.90" r="2.75" fill="#283a7e" stroke="#1c2b66" stroke-width="1.1"/>
<circle cx="114.70" cy="277.90" r="2.75" fill="#283a7e" stroke="#1c2b66" stroke-width="1.1"/>
<circle cx="118.66" cy="294.20" r="2.75" fill="#283a7e" stroke="#1c2b66" stroke-width="1.1"/>
<circle cx="122.62" cy="292.00" r="2.75" fill="#283a7e" stroke="#1c2b66" stroke-width="1.1"/>
<circle cx="138.46" cy="306.20" r="2.75" fill="#283a7e" stroke="#1c2b66" stroke-width="1.1"/>
<circle cx="142.42" cy="304.10" r="2.75" fill="#283a7e" stroke="#1c2b66" stroke-width="1.1"/>
<circle cx="162.22" cy="314.10" r="2.75" fill="#283a7e" stroke="#1c2b66" stroke-width="1.1"/>
<circle cx="170.14" cy="325.60" r="2.75" fill="#283a7e" stroke="#1c2b66" stroke-width="1.1"/>
<path d="M110.74,343.70 L114.70,334.20 L118.66,351.10 L122.62,354.30 L138.46,352.40 L142.42,356.00 L162.22,357.00 L170.14,360.00" fill="none" stroke="#45194f" stroke-width="1.45" stroke-linejoin="round"/>
<circle cx="110.74" cy="343.70" r="2.75" fill="#55245f" stroke="#3f1748" stroke-width="1.1"/>
<circle cx="114.70" cy="334.20" r="2.75" fill="#55245f" stroke="#3f1748" stroke-width="1.1"/>
<circle cx="118.66" cy="351.10" r="2.75" fill="#55245f" stroke="#3f1748" stroke-width="1.1"/>
<circle cx="122.62" cy="354.30" r="2.75" fill="#55245f" stroke="#3f1748" stroke-width="1.1"/>
<circle cx="138.46" cy="352.40" r="2.75" fill="#55245f" stroke="#3f1748" stroke-width="1.1"/>
<circle cx="142.42" cy="356.00" r="2.75" fill="#55245f" stroke="#3f1748" stroke-width="1.1"/>
<circle cx="162.22" cy="357.00" r="2.75" fill="#55245f" stroke="#3f1748" stroke-width="1.1"/>
<circle cx="170.14" cy="360.00" r="2.75" fill="#55245f" stroke="#3f1748" stroke-width="1.1"/>
<path d="M110.74,244.60 L114.70,242.30 L142.42,240.40 L170.14,251.30" fill="none" stroke="#8c0f33" stroke-width="1.45" stroke-linejoin="round"/>
<circle cx="110.74" cy="244.60" r="2.75" fill="#b8103c" stroke="#8e0d33" stroke-width="1.1"/>
<circle cx="114.70" cy="242.30" r="2.75" fill="#b8103c" stroke="#8e0d33" stroke-width="1.1"/>
<circle cx="142.42" cy="240.40" r="2.75" fill="#b8103c" stroke="#8e0d33" stroke-width="1.1"/>
<circle cx="170.14" cy="251.30" r="2.75" fill="#b8103c" stroke="#8e0d33" stroke-width="1.1"/>
<path d="M110.74,255.30 L114.70,250.80 L142.42,375.50 L170.14,375.70" fill="none" stroke="#8c0f33" stroke-width="1.45" stroke-linejoin="round"/>
<circle cx="110.74" cy="255.30" r="2.75" fill="#fff" stroke="#8e0d33" stroke-width="1.3"/>
<circle cx="114.70" cy="250.80" r="2.75" fill="#fff" stroke="#8e0d33" stroke-width="1.3"/>
<circle cx="142.42" cy="375.50" r="2.75" fill="#fff" stroke="#8e0d33" stroke-width="1.3"/>
<circle cx="170.14" cy="375.70" r="2.75" fill="#fff" stroke="#8e0d33" stroke-width="1.3"/>
<line x1="211.6" y1="380.3" x2="466.1" y2="380.3" stroke="#000" stroke-width="1.2" />
<line x1="219.29999999999998" y1="380.3" x2="219.29999999999998" y2="381.9" stroke="#000" stroke-width="0.9" />
<line x1="230.5" y1="380.3" x2="230.5" y2="381.9" stroke="#000" stroke-width="0.9" />
<line x1="241.7" y1="380.3" x2="241.7" y2="383.2" stroke="#000" stroke-width="1.2" />
<text transform="translate(241.7,394.3) scale(0.91,1)" font-size="9.35" text-anchor="middle" font-weight="normal" class="tk">0</text>
<line x1="252.89999999999998" y1="380.3" x2="252.89999999999998" y2="381.9" stroke="#000" stroke-width="0.9" />
<line x1="264.09999999999997" y1="380.3" x2="264.09999999999997" y2="381.9" stroke="#000" stroke-width="0.9" />
<line x1="275.29999999999995" y1="380.3" x2="275.29999999999995" y2="381.9" stroke="#000" stroke-width="0.9" />
<line x1="286.5" y1="380.3" x2="286.5" y2="381.9" stroke="#000" stroke-width="0.9" />
<line x1="297.7" y1="380.3" x2="297.7" y2="383.2" stroke="#000" stroke-width="1.2" />
<text transform="translate(297.7,394.3) scale(0.91,1)" font-size="9.35" text-anchor="middle" font-weight="normal" class="tk">5</text>
<line x1="308.9" y1="380.3" x2="308.9" y2="381.9" stroke="#000" stroke-width="0.9" />
<line x1="320.09999999999997" y1="380.3" x2="320.09999999999997" y2="381.9" stroke="#000" stroke-width="0.9" />
<line x1="331.29999999999995" y1="380.3" x2="331.29999999999995" y2="381.9" stroke="#000" stroke-width="0.9" />
<line x1="342.5" y1="380.3" x2="342.5" y2="381.9" stroke="#000" stroke-width="0.9" />
<line x1="353.7" y1="380.3" x2="353.7" y2="383.2" stroke="#000" stroke-width="1.2" />
<text transform="translate(353.7,394.3) scale(0.91,1)" font-size="9.35" text-anchor="middle" font-weight="normal" class="tk">10</text>
<line x1="364.9" y1="380.3" x2="364.9" y2="381.9" stroke="#000" stroke-width="0.9" />
<line x1="376.09999999999997" y1="380.3" x2="376.09999999999997" y2="381.9" stroke="#000" stroke-width="0.9" />
<line x1="387.29999999999995" y1="380.3" x2="387.29999999999995" y2="381.9" stroke="#000" stroke-width="0.9" />
<line x1="398.5" y1="380.3" x2="398.5" y2="381.9" stroke="#000" stroke-width="0.9" />
<line x1="409.7" y1="380.3" x2="409.7" y2="383.2" stroke="#000" stroke-width="1.2" />
<text transform="translate(409.7,394.3) scale(0.91,1)" font-size="9.35" text-anchor="middle" font-weight="normal" class="tk">15</text>
<line x1="420.9" y1="380.3" x2="420.9" y2="381.9" stroke="#000" stroke-width="0.9" />
<line x1="432.09999999999997" y1="380.3" x2="432.09999999999997" y2="381.9" stroke="#000" stroke-width="0.9" />
<line x1="443.29999999999995" y1="380.3" x2="443.29999999999995" y2="381.9" stroke="#000" stroke-width="0.9" />
<line x1="454.5" y1="380.3" x2="454.5" y2="381.9" stroke="#000" stroke-width="0.9" />
<line x1="465.7" y1="380.3" x2="465.7" y2="383.2" stroke="#000" stroke-width="1.2" />
<text transform="translate(465.7,394.3) scale(0.91,1)" font-size="9.35" text-anchor="middle" font-weight="normal" class="tk">20</text>
<text x="275.4" y="408.7" font-size="11.2" textLength="127.8" lengthAdjust="spacingAndGlyphs" text-anchor="start" font-weight="normal" >Days after heparin re-exposure</text>
<line x1="470.3" y1="235.3" x2="470.3" y2="380.8" stroke="#000" stroke-width="1.2" />
<line x1="470.3" y1="380.3" x2="473.7" y2="380.3" stroke="#000" stroke-width="1.2" />
<text transform="translate(476.8,383.2) scale(0.91,1)" font-size="9.35" text-anchor="start" font-weight="normal" class="tk">0</text>
<line x1="470.3" y1="360.08000000000004" x2="473.7" y2="360.08000000000004" stroke="#000" stroke-width="1.2" />
<text transform="translate(476.8,362.98) scale(0.91,1)" font-size="9.35" text-anchor="start" font-weight="normal" class="tk">0.5</text>
<line x1="470.3" y1="339.86" x2="473.7" y2="339.86" stroke="#000" stroke-width="1.2" />
<text transform="translate(476.8,342.76) scale(0.91,1)" font-size="9.35" text-anchor="start" font-weight="normal" class="tk">1.0</text>
<line x1="470.3" y1="319.64" x2="473.7" y2="319.64" stroke="#000" stroke-width="1.2" />
<text transform="translate(476.8,322.53999999999996) scale(0.91,1)" font-size="9.35" text-anchor="start" font-weight="normal" class="tk">1.5</text>
<line x1="470.3" y1="299.42" x2="473.7" y2="299.42" stroke="#000" stroke-width="1.2" />
<text transform="translate(476.8,302.32) scale(0.91,1)" font-size="9.35" text-anchor="start" font-weight="normal" class="tk">2.0</text>
<line x1="470.3" y1="279.20000000000005" x2="473.7" y2="279.20000000000005" stroke="#000" stroke-width="1.2" />
<text transform="translate(476.8,282.1) scale(0.91,1)" font-size="9.35" text-anchor="start" font-weight="normal" class="tk">2.5</text>
<line x1="470.3" y1="258.98" x2="473.7" y2="258.98" stroke="#000" stroke-width="1.2" />
<text transform="translate(476.8,261.88) scale(0.91,1)" font-size="9.35" text-anchor="start" font-weight="normal" class="tk">3.0</text>
<line x1="470.3" y1="238.76000000000002" x2="473.7" y2="238.76000000000002" stroke="#000" stroke-width="1.2" />
<text transform="translate(476.8,241.66000000000003) scale(0.91,1)" font-size="9.35" text-anchor="start" font-weight="normal" class="tk">3.5</text>
<path d="M243.2,254.0 L243.2,221.0 Q243.2,217.7 246.5,217.7 L410.6,217.7 Q413.8,217.7 413.8,221.0 L413.8,230.6 Q413.8,233.8 410.6,233.8 L243.2,233.8" fill="#fff" stroke="#000" stroke-width="1.3"/>
<path d="M243.2,254.8 L240.6,249.2 L245.8,249.2 Z" fill="#000"/>
<text transform="translate(246.9,228.2) scale(0.881,1)" font-size="9.35" text-anchor="start" font-weight="normal" >UFH reexposure, urgent heart surgery (2002)</text>
<rect x="255.3" y="238.5" width="198.5" height="15.900000000000006" rx="3.2" ry="3.2" fill="#fff" stroke="#000" stroke-width="1.3"/>
<text transform="translate(261.7,248.5) scale(0.881,1)" font-size="9.35" text-anchor="start" font-weight="normal" >SRA and EIA seroconversion after UFH reexposure</text>
<path d="M230.50,367.80 L264.10,366.50 L275.30,367.30 L308.90,360.50 L320.10,347.80 L331.30,317.10 L342.50,309.70 L353.70,303.60 L364.90,302.70 L376.10,302.40 L387.30,301.30 L398.50,301.30 L409.70,304.20 L420.90,303.60 L432.10,301.90 L443.30,303.60 L454.50,303.60" fill="none" stroke="#4f8a3a" stroke-width="1.45" stroke-linejoin="round"/>
<circle cx="230.50" cy="367.80" r="2.75" fill="#6fae45" stroke="#5c9a38" stroke-width="1.1"/>
<circle cx="264.10" cy="366.50" r="2.75" fill="#6fae45" stroke="#5c9a38" stroke-width="1.1"/>
<circle cx="275.30" cy="367.30" r="2.75" fill="#6fae45" stroke="#5c9a38" stroke-width="1.1"/>
<circle cx="308.90" cy="360.50" r="2.75" fill="#6fae45" stroke="#5c9a38" stroke-width="1.1"/>
<circle cx="320.10" cy="347.80" r="2.75" fill="#6fae45" stroke="#5c9a38" stroke-width="1.1"/>
<circle cx="331.30" cy="317.10" r="2.75" fill="#6fae45" stroke="#5c9a38" stroke-width="1.1"/>
<circle cx="342.50" cy="309.70" r="2.75" fill="#6fae45" stroke="#5c9a38" stroke-width="1.1"/>
<circle cx="353.70" cy="303.60" r="2.75" fill="#6fae45" stroke="#5c9a38" stroke-width="1.1"/>
<circle cx="364.90" cy="302.70" r="2.75" fill="#6fae45" stroke="#5c9a38" stroke-width="1.1"/>
<circle cx="376.10" cy="302.40" r="2.75" fill="#6fae45" stroke="#5c9a38" stroke-width="1.1"/>
<circle cx="387.30" cy="301.30" r="2.75" fill="#6fae45" stroke="#5c9a38" stroke-width="1.1"/>
<circle cx="398.50" cy="301.30" r="2.75" fill="#6fae45" stroke="#5c9a38" stroke-width="1.1"/>
<circle cx="409.70" cy="304.20" r="2.75" fill="#6fae45" stroke="#5c9a38" stroke-width="1.1"/>
<circle cx="420.90" cy="303.60" r="2.75" fill="#6fae45" stroke="#5c9a38" stroke-width="1.1"/>
<circle cx="432.10" cy="301.90" r="2.75" fill="#6fae45" stroke="#5c9a38" stroke-width="1.1"/>
<circle cx="443.30" cy="303.60" r="2.75" fill="#6fae45" stroke="#5c9a38" stroke-width="1.1"/>
<circle cx="454.50" cy="303.60" r="2.75" fill="#6fae45" stroke="#5c9a38" stroke-width="1.1"/>
<path d="M230.50,368.00 L264.10,370.00 L275.30,368.00 L308.90,365.60 L320.10,363.00 L331.30,350.50 L342.50,342.00 L353.70,340.60 L364.90,336.40 L376.10,331.30 L387.30,334.40 L398.50,330.70 L409.70,334.40 L420.90,339.30 L432.10,337.50 L443.30,337.00 L454.50,335.70" fill="none" stroke="#1f2d66" stroke-width="1.45" stroke-linejoin="round"/>
<circle cx="230.50" cy="368.00" r="2.75" fill="#283a7e" stroke="#1c2b66" stroke-width="1.1"/>
<circle cx="264.10" cy="370.00" r="2.75" fill="#283a7e" stroke="#1c2b66" stroke-width="1.1"/>
<circle cx="275.30" cy="368.00" r="2.75" fill="#283a7e" stroke="#1c2b66" stroke-width="1.1"/>
<circle cx="308.90" cy="365.60" r="2.75" fill="#283a7e" stroke="#1c2b66" stroke-width="1.1"/>
<circle cx="320.10" cy="363.00" r="2.75" fill="#283a7e" stroke="#1c2b66" stroke-width="1.1"/>
<circle cx="331.30" cy="350.50" r="2.75" fill="#283a7e" stroke="#1c2b66" stroke-width="1.1"/>
<circle cx="342.50" cy="342.00" r="2.75" fill="#283a7e" stroke="#1c2b66" stroke-width="1.1"/>
<circle cx="353.70" cy="340.60" r="2.75" fill="#283a7e" stroke="#1c2b66" stroke-width="1.1"/>
<circle cx="364.90" cy="336.40" r="2.75" fill="#283a7e" stroke="#1c2b66" stroke-width="1.1"/>
<circle cx="376.10" cy="331.30" r="2.75" fill="#283a7e" stroke="#1c2b66" stroke-width="1.1"/>
<circle cx="387.30" cy="334.40" r="2.75" fill="#283a7e" stroke="#1c2b66" stroke-width="1.1"/>
<circle cx="398.50" cy="330.70" r="2.75" fill="#283a7e" stroke="#1c2b66" stroke-width="1.1"/>
<circle cx="409.70" cy="334.40" r="2.75" fill="#283a7e" stroke="#1c2b66" stroke-width="1.1"/>
<circle cx="420.90" cy="339.30" r="2.75" fill="#283a7e" stroke="#1c2b66" stroke-width="1.1"/>
<circle cx="432.10" cy="337.50" r="2.75" fill="#283a7e" stroke="#1c2b66" stroke-width="1.1"/>
<circle cx="443.30" cy="337.00" r="2.75" fill="#283a7e" stroke="#1c2b66" stroke-width="1.1"/>
<circle cx="454.50" cy="335.70" r="2.75" fill="#283a7e" stroke="#1c2b66" stroke-width="1.1"/>
<path d="M230.50,373.50 L264.10,371.50 L275.30,372.30 L308.90,372.60 L320.10,371.90 L331.30,367.70 L342.50,363.50 L353.70,364.60 L364.90,364.60 L376.10,366.90 L387.30,366.90 L398.50,364.60 L409.70,366.00 L420.90,366.20 L432.10,368.00 L443.30,368.60 L454.50,369.30" fill="none" stroke="#45194f" stroke-width="1.45" stroke-linejoin="round"/>
<circle cx="230.50" cy="373.50" r="2.75" fill="#55245f" stroke="#3f1748" stroke-width="1.1"/>
<circle cx="264.10" cy="371.50" r="2.75" fill="#55245f" stroke="#3f1748" stroke-width="1.1"/>
<circle cx="275.30" cy="372.30" r="2.75" fill="#55245f" stroke="#3f1748" stroke-width="1.1"/>
<circle cx="308.90" cy="372.60" r="2.75" fill="#55245f" stroke="#3f1748" stroke-width="1.1"/>
<circle cx="320.10" cy="371.90" r="2.75" fill="#55245f" stroke="#3f1748" stroke-width="1.1"/>
<circle cx="331.30" cy="367.70" r="2.75" fill="#55245f" stroke="#3f1748" stroke-width="1.1"/>
<circle cx="342.50" cy="363.50" r="2.75" fill="#55245f" stroke="#3f1748" stroke-width="1.1"/>
<circle cx="353.70" cy="364.60" r="2.75" fill="#55245f" stroke="#3f1748" stroke-width="1.1"/>
<circle cx="364.90" cy="364.60" r="2.75" fill="#55245f" stroke="#3f1748" stroke-width="1.1"/>
<circle cx="376.10" cy="366.90" r="2.75" fill="#55245f" stroke="#3f1748" stroke-width="1.1"/>
<circle cx="387.30" cy="366.90" r="2.75" fill="#55245f" stroke="#3f1748" stroke-width="1.1"/>
<circle cx="398.50" cy="364.60" r="2.75" fill="#55245f" stroke="#3f1748" stroke-width="1.1"/>
<circle cx="409.70" cy="366.00" r="2.75" fill="#55245f" stroke="#3f1748" stroke-width="1.1"/>
<circle cx="420.90" cy="366.20" r="2.75" fill="#55245f" stroke="#3f1748" stroke-width="1.1"/>
<circle cx="432.10" cy="368.00" r="2.75" fill="#55245f" stroke="#3f1748" stroke-width="1.1"/>
<circle cx="443.30" cy="368.60" r="2.75" fill="#55245f" stroke="#3f1748" stroke-width="1.1"/>
<circle cx="454.50" cy="369.30" r="2.75" fill="#55245f" stroke="#3f1748" stroke-width="1.1"/>
<path d="M230.50,377.60 L264.10,377.60 L275.30,377.60 L308.90,377.40 L320.10,377.40 L331.30,373.60 L342.50,349.70 L353.70,347.60 L364.90,348.30 L376.10,318.30 L387.30,295.50 L398.50,261.40 L409.70,286.00 L420.90,323.50 L432.10,284.00 L443.30,323.50 L454.50,369.30" fill="none" stroke="#8c0f33" stroke-width="1.45" stroke-linejoin="round"/>
<circle cx="230.50" cy="377.60" r="2.75" fill="#b8103c" stroke="#8e0d33" stroke-width="1.1"/>
<circle cx="264.10" cy="377.60" r="2.75" fill="#b8103c" stroke="#8e0d33" stroke-width="1.1"/>
<circle cx="275.30" cy="377.60" r="2.75" fill="#b8103c" stroke="#8e0d33" stroke-width="1.1"/>
<circle cx="308.90" cy="377.40" r="2.75" fill="#b8103c" stroke="#8e0d33" stroke-width="1.1"/>
<circle cx="320.10" cy="377.40" r="2.75" fill="#b8103c" stroke="#8e0d33" stroke-width="1.1"/>
<circle cx="331.30" cy="373.60" r="2.75" fill="#b8103c" stroke="#8e0d33" stroke-width="1.1"/>
<circle cx="342.50" cy="349.70" r="2.75" fill="#b8103c" stroke="#8e0d33" stroke-width="1.1"/>
<circle cx="353.70" cy="347.60" r="2.75" fill="#b8103c" stroke="#8e0d33" stroke-width="1.1"/>
<circle cx="364.90" cy="348.30" r="2.75" fill="#b8103c" stroke="#8e0d33" stroke-width="1.1"/>
<circle cx="376.10" cy="318.30" r="2.75" fill="#b8103c" stroke="#8e0d33" stroke-width="1.1"/>
<circle cx="387.30" cy="295.50" r="2.75" fill="#b8103c" stroke="#8e0d33" stroke-width="1.1"/>
<circle cx="398.50" cy="261.40" r="2.75" fill="#b8103c" stroke="#8e0d33" stroke-width="1.1"/>
<circle cx="409.70" cy="286.00" r="2.75" fill="#b8103c" stroke="#8e0d33" stroke-width="1.1"/>
<circle cx="420.90" cy="323.50" r="2.75" fill="#b8103c" stroke="#8e0d33" stroke-width="1.1"/>
<circle cx="432.10" cy="284.00" r="2.75" fill="#b8103c" stroke="#8e0d33" stroke-width="1.1"/>
<circle cx="443.30" cy="323.50" r="2.75" fill="#b8103c" stroke="#8e0d33" stroke-width="1.1"/>
<circle cx="454.50" cy="369.30" r="2.75" fill="#b8103c" stroke="#8e0d33" stroke-width="1.1"/>
<path d="M230.50,379.60 L264.10,379.90 L275.30,379.90 L308.90,378.60 L320.10,378.40 L331.30,379.10 L342.50,374.60 L353.70,374.60 L364.90,379.00 L376.10,379.00 L387.30,379.00 L398.50,379.00 L409.70,379.00 L420.90,378.80 L432.10,378.70 L443.30,379.90 L454.50,379.90" fill="none" stroke="#8c0f33" stroke-width="1.45" stroke-linejoin="round"/>
<circle cx="230.50" cy="379.60" r="2.75" fill="#fff" stroke="#8e0d33" stroke-width="1.3"/>
<circle cx="264.10" cy="379.90" r="2.75" fill="#fff" stroke="#8e0d33" stroke-width="1.3"/>
<circle cx="275.30" cy="379.90" r="2.75" fill="#fff" stroke="#8e0d33" stroke-width="1.3"/>
<circle cx="308.90" cy="378.60" r="2.75" fill="#fff" stroke="#8e0d33" stroke-width="1.3"/>
<circle cx="320.10" cy="378.40" r="2.75" fill="#fff" stroke="#8e0d33" stroke-width="1.3"/>
<circle cx="331.30" cy="379.10" r="2.75" fill="#fff" stroke="#8e0d33" stroke-width="1.3"/>
<circle cx="342.50" cy="374.60" r="2.75" fill="#fff" stroke="#8e0d33" stroke-width="1.3"/>
<circle cx="353.70" cy="374.60" r="2.75" fill="#fff" stroke="#8e0d33" stroke-width="1.3"/>
<circle cx="364.90" cy="379.00" r="2.75" fill="#fff" stroke="#8e0d33" stroke-width="1.3"/>
<circle cx="376.10" cy="379.00" r="2.75" fill="#fff" stroke="#8e0d33" stroke-width="1.3"/>
<circle cx="387.30" cy="379.00" r="2.75" fill="#fff" stroke="#8e0d33" stroke-width="1.3"/>
<circle cx="398.50" cy="379.00" r="2.75" fill="#fff" stroke="#8e0d33" stroke-width="1.3"/>
<circle cx="409.70" cy="379.00" r="2.75" fill="#fff" stroke="#8e0d33" stroke-width="1.3"/>
<circle cx="420.90" cy="378.80" r="2.75" fill="#fff" stroke="#8e0d33" stroke-width="1.3"/>
<circle cx="432.10" cy="378.70" r="2.75" fill="#fff" stroke="#8e0d33" stroke-width="1.3"/>
<circle cx="443.30" cy="379.90" r="2.75" fill="#fff" stroke="#8e0d33" stroke-width="1.3"/>
<circle cx="454.50" cy="379.90" r="2.75" fill="#fff" stroke="#8e0d33" stroke-width="1.3"/>
<g transform="translate(500.8,391.9) rotate(-90)">
<text x="0" y="0" font-size="10.3" textLength="29.6" lengthAdjust="spacingAndGlyphs">EIA-IgG</text>
<line x1="32.4" y1="-3.5" x2="44.800000000000004" y2="-3.5" stroke="#5c9a38" stroke-width="1.1"/>
<circle cx="38.6" cy="-3.5" r="3.0" fill="#6fae45" stroke="#5c9a38" stroke-width="1.1"/>
<text x="45.6" y="0" font-size="10.3" textLength="20.699999999999996" lengthAdjust="spacingAndGlyphs">, -IgA</text>
<line x1="71.3" y1="-3.5" x2="83.7" y2="-3.5" stroke="#1c2b66" stroke-width="1.1"/>
<circle cx="77.5" cy="-3.5" r="3.0" fill="#283a7e" stroke="#1c2b66" stroke-width="1.1"/>
<text x="85.6" y="0" font-size="10.3" textLength="21.400000000000006" lengthAdjust="spacingAndGlyphs">, -IgM</text>
<line x1="109.0" y1="-3.5" x2="121.4" y2="-3.5" stroke="#3f1748" stroke-width="1.1"/>
<circle cx="115.2" cy="-3.5" r="3.0" fill="#55245f" stroke="#3f1748" stroke-width="1.1"/>
<text x="126.0" y="0" font-size="10.3" textLength="39.30000000000001" lengthAdjust="spacingAndGlyphs">(OD units)</text>
</g>
<rect x="0.5" y="0.5" width="519" height="418" fill="none" stroke="#000" stroke-width="1.2"/>
</svg></body></html>
